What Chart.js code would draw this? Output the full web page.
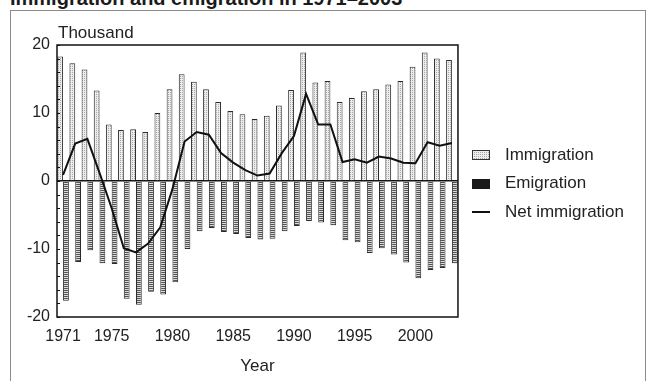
<!DOCTYPE html>
<html><head><meta charset="utf-8">
<script src="https://cdn.jsdelivr.net/npm/chart.js@4.4.1/dist/chart.umd.min.js"></script>
<style>
html,body{margin:0;padding:0;background:#fff;width:647px;height:381px;overflow:hidden;}
#frame{position:absolute;left:10px;top:10px;width:634px;height:420px;border:1px solid #8a8a8a;}
#title{position:absolute;left:10px;top:-12px;font:bold 20px 'Liberation Sans',Arial,sans-serif;color:#1a1a1a;white-space:nowrap;line-height:20px;}
#wrap{position:absolute;left:0;top:0;width:647px;height:381px;}
.warm{position:absolute;left:-2000px;top:0;white-space:nowrap;}
</style></head><body>
<div id="frame"></div>
<div id="title">Immigration and emigration in 1971–2003</div>
<span class="warm" style="font:17px 'Liberation Sans'">Thousand Year Net immigration Emigration -20 1971</span>
<div id="wrap"><canvas id="c"></canvas></div>
<script>
// ---- data ----
const years = ['1971','1972','1973','1974','1975','1976','1977','1978','1979','1980',
  '1981','1982','1983','1984','1985','1986','1987','1988','1989','1990',
  '1991','1992','1993','1994','1995','1996','1997','1998','1999','2000',
  '2001','2002','2003'];
const immigration = [18.3,17.3,16.4,13.3,8.3,7.5,7.6,7.2,10.0,13.5,
  15.7,14.6,13.5,11.6,10.3,9.8,9.1,9.6,11.1,13.4,
  18.9,14.5,14.7,11.6,12.2,13.2,13.5,14.2,14.7,16.8,
  18.9,18.0,17.8];
const emigration = [-17.6,-11.9,-10.2,-12.1,-12.2,-17.3,-18.2,-16.3,-16.7,-14.9,
  -10.0,-7.4,-6.9,-7.5,-7.8,-8.4,-8.6,-8.5,-7.4,-6.6,
  -5.9,-6.1,-6.5,-8.7,-9.0,-10.6,-9.9,-10.8,-12.0,-14.3,
  -13.1,-12.8,-12.1];
const netImmigration = [0.9,5.5,6.2,1.2,-4.0,-9.9,-10.5,-9.2,-6.8,-1.2,
  5.8,7.2,6.8,4.1,2.7,1.6,0.8,1.1,4.1,6.6,
  12.8,8.3,8.3,2.8,3.2,2.7,3.6,3.3,2.7,2.6,
  5.7,5.2,5.6];
const xTickLabels = ['1971','1975','1980','1985','1990','1995','2000'];
const yTickLabels = [-20,-10,0,10,20];
const seriesNames = ['Immigration','Emigration','Net immigration'];
const yUnit = 'Thousand';
const xTitle = 'Year';

// ---- styles ----
const tickFont = "'Liberation Sans', sans-serif";
const textFont = "'Liberation Sans', sans-serif";

function tile(w, h, draw){const c=document.createElement('canvas');c.width=w;c.height=h;draw(c.getContext('2d'));return c;}
const dotTile = tile(2,2,g=>{g.fillStyle='#ededed';g.fillRect(0,0,2,2);g.fillStyle='#a8a8a8';g.fillRect(0,0,1,1);});
const stripeTile = tile(1,2,g=>{g.fillStyle='#dcdcdc';g.fillRect(0,0,1,2);g.fillStyle='#505050';g.fillRect(0,0,1,1);});
const tmp = document.createElement('canvas').getContext('2d');
const dotPattern = tmp.createPattern(dotTile,'repeat');
const stripePattern = tmp.createPattern(stripeTile,'repeat');

const immIcon = tile(22,10,g=>{g.fillStyle=dotPattern;g.fillRect(0,0,18,10);g.strokeStyle='#333';g.lineWidth=1;g.strokeRect(0.5,0.5,17,9);});
const emiIcon = tile(22,10,g=>{g.fillStyle='#1a1a1a';g.fillRect(0,0,18,10);});
const netIcon = tile(22,2,g=>{g.fillStyle='#111';g.fillRect(0,0,18,2);});

const framePlugin = {
  id:'frameAndLabels',
  afterDraw(chart){
    const {ctx, chartArea:a, scales} = chart;
    ctx.save();
    ctx.strokeStyle='#111'; ctx.lineWidth=1.5;
    ctx.strokeRect(a.left, a.top, a.right-a.left, a.bottom-a.top);
    ctx.lineWidth=1;
    scales.y.ticks.forEach(t=>{
      const py = Math.round(scales.y.getPixelForValue(t.value))+0.5;
      ctx.beginPath(); ctx.moveTo(a.left, py); ctx.lineTo(a.left+3, py); ctx.stroke();
    });
    ctx.font = "17px " + textFont;
    ctx.fillStyle = '#222';
    ctx.textBaseline = 'alphabetic';
    ctx.textAlign = 'left';
    ctx.fillText(yUnit, a.left+1, a.top-7);
    ctx.restore();
  }
};

function build(){
  const chart = new Chart(document.getElementById('c'), {
    data: {
      labels: years,
      datasets: [
        {type:'bar', label:seriesNames[0], data:immigration, backgroundColor:dotPattern, borderColor:'#2a2a2a', borderWidth:1, order:1, barPercentage:1, categoryPercentage:0.95},
        {type:'bar', label:seriesNames[1], data:emigration, backgroundColor:stripePattern, borderColor:'#2a2a2a', borderWidth:1, order:1, barPercentage:1, categoryPercentage:0.95},
        {type:'line', label:seriesNames[2], data:netImmigration, borderColor:'#111', borderWidth:2, pointRadius:0, tension:0, order:0}
      ]
    },
    options: {
      responsive:true, maintainAspectRatio:false, animation:false, devicePixelRatio:1,
      layout:{padding:{left:10, right:13, top:45, bottom:0}},
      plugins:{
        tooltip:{enabled:false},
        legend:{
          position:'right', align:'start', maxWidth:220,
          title:{display:true, text:'', padding:{top:75.6, bottom:0}, font:{size:12, lineHeight:1.2}},
          labels:{
            usePointStyle:true, pointStyleWidth:27, padding:11.5,
            font:{family:textFont, size:17}, color:'#222',
            generateLabels:()=>[
              {text:seriesNames[0], pointStyle:immIcon, fillStyle:'#ddd', strokeStyle:'#333', lineWidth:0, hidden:false, datasetIndex:0, fontColor:'#222'},
              {text:seriesNames[1], pointStyle:emiIcon, fillStyle:'#111', strokeStyle:'#111', lineWidth:0, hidden:false, datasetIndex:1, fontColor:'#222'},
              {text:seriesNames[2], pointStyle:netIcon, fillStyle:'#111', strokeStyle:'#111', lineWidth:0, hidden:false, datasetIndex:2, fontColor:'#222'}
            ]
          }
        }
      },
      scales:{
        x:{
          type:'category', offset:true,
          grid:{display:false, drawTicks:false},
          border:{display:false},
          ticks:{autoSkip:false, maxRotation:0, padding:10, color:'#222', font:{family:tickFont, size:16},
            callback:function(v){const l=this.getLabelForValue(v);return xTickLabels.includes(l)?l:'';}},
          title:{display:true, text:xTitle, color:'#222', font:{family:textFont, size:17}, padding:{top:0,bottom:4}},
          afterFit:s=>{s.height=64;}
        },
        y:{
          min:-20, max:20,
          grid:{drawTicks:false, color:c=>c.tick && c.tick.value===0?'#111':'rgba(0,0,0,0)', lineWidth:1.5},
          border:{display:false},
          ticks:{stepSize:2, padding:7, color:'#222', font:{family:tickFont, size:16}, autoSkip:false,
            callback:v=>yTickLabels.includes(Math.round(v))&&Math.abs(v-Math.round(v))<1e-6?String(Math.round(v)):''},
          afterFit:s=>{s.width=47;}
        }
      }
    },
    plugins:[framePlugin]
  });
  setTimeout(()=>chart.update('none'), 150);
  setTimeout(()=>chart.update('none'), 600);
}
(document.fonts && document.fonts.ready ? document.fonts.ready : Promise.resolve()).then(()=>{
  document.fonts.load("17px 'Liberation Sans'").catch(()=>{}).then(build);
});
</script>
</body></html>
